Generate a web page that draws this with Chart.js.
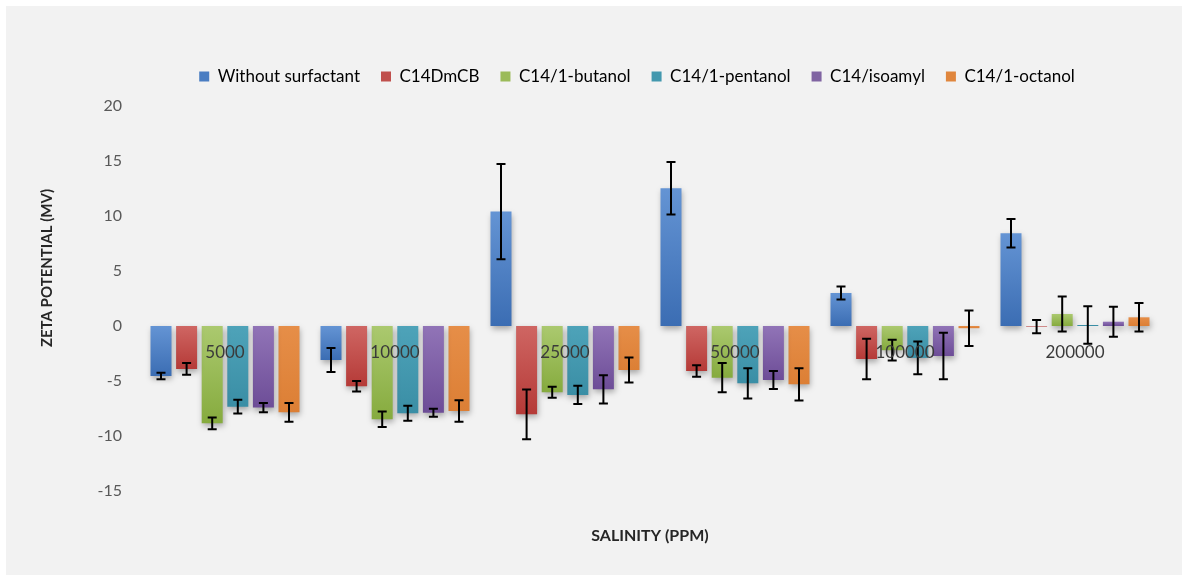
<!DOCTYPE html>
<html>
<head>
<meta charset="utf-8">
<title>Zeta potential vs salinity</title>
<script src="https://cdn.jsdelivr.net/npm/chart.js@4.4.1/dist/chart.umd.min.js"></script>
<style>
  html, body { margin: 0; padding: 0; background: #ffffff; }
  #wrap { position: relative; width: 1188px; height: 581px; }
  canvas { display: block; }
</style>
</head>
<body>
<div id="wrap"><canvas id="chart" width="1188" height="581"></canvas></div>
<script>
// Salinity groups (ppm)
const categories = ['5000', '10000', '25000', '50000', '100000', '200000'];

// Mean zeta potential (mV) per formulation
const withoutSurfactant = [-4.55, -3.09, 10.4, 12.52, 3.0, 8.43];
const c14DmCB          = [-3.9, -5.48, -8.03, -4.09, -3.0, -0.05];
const c14Butanol       = [-8.85, -8.48, -6.03, -4.7, -2.2, 1.09];
const c14Pentanol      = [-7.33, -7.94, -6.27, -5.21, -2.9, 0.09];
const c14Isoamyl       = [-7.42, -7.88, -5.76, -4.91, -2.73, 0.39];
const c14Octanol       = [-7.85, -7.73, -4.0, -5.3, -0.2, 0.79];

// Standard deviation (mV) per formulation
const withoutSurfactantErr = [0.3, 1.1, 4.33, 2.38, 0.6, 1.29];
const c14DmCBErr           = [0.53, 0.48, 2.26, 0.52, 1.83, 0.6];
const c14ButanolErr        = [0.53, 0.7, 0.5, 1.33, 0.94, 1.6];
const c14PentanolErr       = [0.62, 0.68, 0.83, 1.38, 1.48, 1.7];
const c14IsoamylErr        = [0.43, 0.36, 1.29, 0.82, 2.12, 1.36];
const c14OctanolErr        = [0.85, 0.97, 1.14, 1.47, 1.62, 1.29];

// Series names shown in the legend
const seriesNames = ['Without surfactant', 'C14DmCB', 'C14/1-butanol', 'C14/1-pentanol', 'C14/isoamyl', 'C14/1-octanol'];

// Y axis range and step (mV)
const yMin = -15, yMax = 20, yStep = 5;

const FONT = 'Lato, "Liberation Sans", Arial, sans-serif';

// Fill colours: [lighter top, darker bottom, legend swatch]
const palette = [
  ['#6494d4', '#3b6db3', '#4a7dc2'],
  ['#cf6663', '#b53a37', '#c0504d'],
  ['#abc96f', '#86ab3e', '#9bbb59'],
  ['#4ea3b9', '#3a8ea5', '#4398ae'],
  ['#9174b7', '#6d4d97', '#8064a2'],
  ['#e68e48', '#dc7f35', '#e0863d']
];

const seriesValues = [withoutSurfactant, c14DmCB, c14Butanol, c14Pentanol, c14Isoamyl, c14Octanol];
const seriesErrors = [withoutSurfactantErr, c14DmCBErr, c14ButanolErr, c14PentanolErr, c14IsoamylErr, c14OctanolErr];

// Vertical gradient for each bar, lighter at the upper edge
function barFill(light, dark) {
  return (ctx) => {
    const chart = ctx.chart;
    const ys = chart.scales && chart.scales.y;
    if (!chart.chartArea || ctx.type !== 'data' || !ys) return dark;
    const v = ys.getPixelForValue(ctx.raw);
    const b = ys.getPixelForValue(0);
    if (!isFinite(v) || !isFinite(b) || Math.abs(v - b) < 1) return dark;
    const g = chart.ctx.createLinearGradient(0, Math.min(v, b), 0, Math.max(v, b));
    g.addColorStop(0, light);
    g.addColorStop(1, dark);
    return g;
  };
}

const datasets = seriesNames.map((name, i) => ({
  label: name,
  data: seriesValues[i],
  errors: seriesErrors[i],
  backgroundColor: barFill(palette[i][0], palette[i][1]),
  borderWidth: 0,
  barPercentage: 0.82,
  categoryPercentage: 0.9035
}));

// Grey panel behind the whole chart
const panel = {
  id: 'panel',
  beforeDraw(chart) {
    const c = chart.ctx;
    c.save();
    c.fillStyle = '#ffffff';
    c.fillRect(0, 0, chart.width, chart.height);
    c.fillStyle = '#f2f2f2';
    c.fillRect(6, 6, chart.width - 12, chart.height - 12);
    c.restore();
  }
};

// Fixed legend band height, and the legend row centred a little right of the canvas middle
const legendBand = {
  id: 'legendBand',
  beforeLayout(chart) {
    const lg = chart.legend;
    if (lg && !lg._bandFixed) {
      const orig = lg.fit.bind(lg);
      lg.fit = function () { orig(); this.height = 59; };
      lg._bandFixed = true;
    }
  },
  afterLayout(chart) {
    if (chart.legend) chart.legend.left += 114;
  }
};

// Soft drop shadow under bars, then error bars on top
const barsExtras = {
  id: 'barsExtras',
  beforeDatasetsDraw(chart) {
    const c = chart.ctx;
    c.save();
    c.shadowColor = 'rgba(0,0,0,0.32)';
    c.shadowBlur = 6;
    c.shadowOffsetX = 1;
    c.shadowOffsetY = 3;
  },
  afterDatasetsDraw(chart) {
    const c = chart.ctx;
    c.restore();
    const ys = chart.scales.y;
    c.save();
    c.strokeStyle = '#000000';
    c.lineWidth = 2;
    chart.data.datasets.forEach((ds, di) => {
      const meta = chart.getDatasetMeta(di);
      meta.data.forEach((bar, i) => {
        const v = ds.data[i], e = ds.errors[i];
        const x = bar.x;
        const yTop = ys.getPixelForValue(v + e);
        const yBot = ys.getPixelForValue(v - e);
        const cap = 4.5;
        c.beginPath();
        c.moveTo(x, yTop); c.lineTo(x, yBot);
        c.moveTo(x - cap, yTop); c.lineTo(x + cap, yTop);
        c.moveTo(x - cap, yBot); c.lineTo(x + cap, yBot);
        c.stroke();
      });
    });
    c.restore();
  }
};

// Axis titles
const axisTitles = {
  id: 'axisTitles',
  afterDraw(chart) {
    const c = chart.ctx;
    const a = chart.chartArea;
    c.save();
    c.fillStyle = '#262626';
    c.textAlign = 'center';
    c.textBaseline = 'middle';
    c.font = 'bold 16px ' + FONT;
    c.fillText('SALINITY (PPM)', (a.left + a.right) / 2, 536);
    c.font = 'bold 15px ' + FONT;
    c.translate(47, 268);
    c.rotate(-Math.PI / 2);
    c.fillText('ZETA POTENTIAL (MV)', 0, 0);
    c.restore();
  }
};

new Chart(document.getElementById('chart'), {
  type: 'bar',
  data: { labels: categories, datasets },
  plugins: [panel, legendBand, barsExtras, axisTitles],
  options: {
    responsive: false,
    animation: false,
    layout: { padding: { left: 0, right: 28, top: 47, bottom: 90 } },
    plugins: {
      title: { display: false },
      tooltip: { enabled: false },
      legend: {
        position: 'top',
        labels: {
          boxWidth: 10,
          boxHeight: 10,
          padding: 21,
          color: '#404040',
          font: { family: FONT, size: 17 },
          generateLabels(chart) {
            return chart.data.datasets.map((ds, i) => ({
              text: ds.label,
              fillStyle: palette[i][2],
              strokeStyle: palette[i][2],
              lineWidth: 0,
              hidden: false,
              datasetIndex: i
            }));
          }
        }
      }
    },
    scales: {
      x: {
        position: { y: 0 },
        grid: { display: false, drawTicks: false },
        border: { display: false },
        ticks: {
          z: 1,
          color: '#3a3a3a',
          font: { family: FONT, size: 17 },
          padding: 16,
          maxRotation: 0
        }
      },
      y: {
        min: yMin,
        max: yMax,
        grid: { display: false, drawTicks: false },
        border: { display: false },
        ticks: {
          stepSize: yStep,
          color: '#595959',
          font: { family: FONT, size: 16 },
          padding: 18
        },
        afterFit(scale) { scale.width = 140; }
      }
    }
  }
});
</script>
</body>
</html>
